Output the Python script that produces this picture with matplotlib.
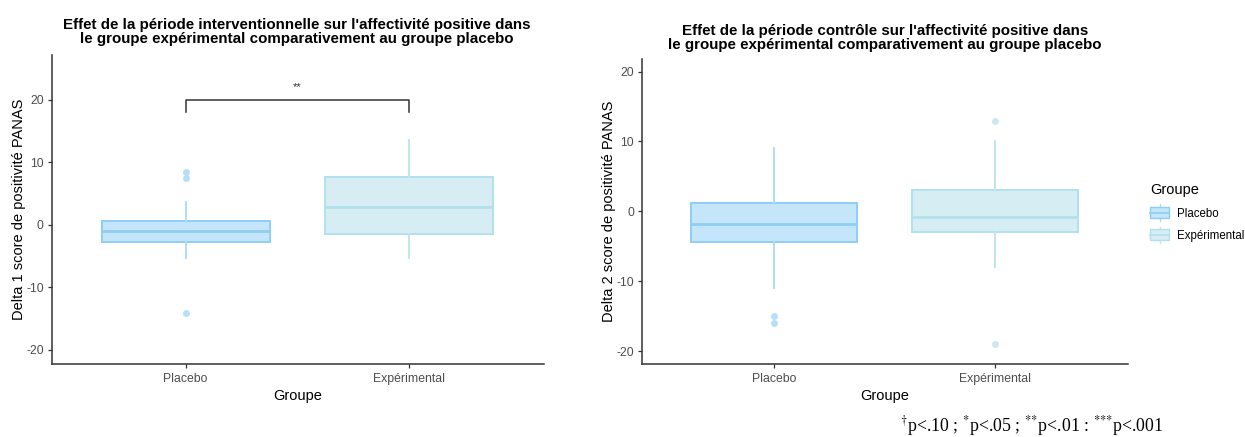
import matplotlib
matplotlib.use("Agg")
import matplotlib.pyplot as plt
from matplotlib.patches import Rectangle
from matplotlib.lines import Line2D
from matplotlib.legend_handler import HandlerBase

plt.rcParams['font.family'] = ['Liberation Sans', 'DejaVu Sans']
plt.rcParams['mathtext.fontset'] = 'stix'
plt.rcParams['axes.unicode_minus'] = False

groups = ['Placebo', 'Expérimental']

# box statistics per group: q1, median, q3, lower whisker, upper whisker, outliers
delta1_q1 = [-2.7, -1.4]
delta1_med = [-0.9, 2.9]
delta1_q3 = [0.6, 7.7]
delta1_lo = [-5.3, -5.3]
delta1_hi = [3.6, 13.6]
delta1_out = [[8.5, 7.5, -14.0], []]

delta2_q1 = [-4.4, -2.9]
delta2_med = [-1.8, -0.8]
delta2_q3 = [1.15, 3.0]
delta2_lo = [-10.9, -7.9]
delta2_hi = [9.1, 10.0]
delta2_out = [[-15.0, -16.0], [13.0, -19.0]]

titles = ["Effet de la période interventionnelle sur l'affectivité positive dans\n"
          "le groupe expérimental comparativement au groupe placebo",
          "Effet de la période contrôle sur l'affectivité positive dans\n"
          "le groupe expérimental comparativement au groupe placebo"]
ylabels = ["Delta 1 score de positivité PANAS", "Delta 2 score de positivité PANAS"]
yticks = [-20, -10, 0, 10, 20]

fills = ['#C4E5FA', '#D7EDF4']
edges = ['#8ECEF6', '#B3E0ED']
whisk = ['#AEDCF8', '#C2E5F0']
fliercol = ['#B8DFF9', '#CCE8F1']

W, H = 1245, 437
fig = plt.figure(figsize=(W / 100, H / 100), dpi=100)


def fax(x0, y0, x1, y1):
    return fig.add_axes([x0 / W, 1 - y1 / H, (x1 - x0) / W, (y1 - y0) / H])


def draw_panel(ax, q1, med, q3, lo, hi, out, ylim, ylabel, labx):
    for i in range(len(groups)):
        st = dict(q1=q1[i], med=med[i], q3=q3[i], whislo=lo[i], whishi=hi[i], fliers=out[i])
        ax.bxp([st], positions=[i + 1], widths=0.75, patch_artist=True, showcaps=False,
               boxprops=dict(facecolor=fills[i], edgecolor=edges[i], linewidth=1.4),
               medianprops=dict(color=edges[i], linewidth=2),
               whiskerprops=dict(color=whisk[i], linewidth=1.4),
               flierprops=dict(marker='o', markersize=5, markerfacecolor=fliercol[i],
                               markeredgecolor='none'))
    ax.set_xlim(0.4, 2.6)
    ax.set_ylim(*ylim)
    ax.set_yticks(yticks)
    ax.set_xticks([1, 2])
    ax.set_xticklabels(groups)
    for s in ['top', 'right']:
        ax.spines[s].set_visible(False)
    for s in ['left', 'bottom']:
        ax.spines[s].set_color('#333333')
        ax.spines[s].set_linewidth(1.1)
    ax.tick_params(colors='#333333', labelcolor='#4D4D4D', labelsize=8.8, length=3, width=0.9)
    ax.tick_params(axis='y', pad=2.5)
    ax.set_xlabel('Groupe', fontsize=10.5, labelpad=3)
    ax.set_ylabel(ylabel, fontsize=10.5)
    ax.yaxis.set_label_coords(labx, 0.5)


ax1 = fax(51.5, 55, 543.5, 364)
draw_panel(ax1, delta1_q1, delta1_med, delta1_q3, delta1_lo, delta1_hi, delta1_out,
           (-22.24, 27.2), ylabels[0], -0.052)

# significance bracket between the two groups
ax1.plot([1, 1, 2, 2], [18.1, 20, 20, 18.1], color='#333333', linewidth=1.1)
ax1.text(1.5, 21.3, '**', ha='center', va='bottom', fontsize=8, color='#333333')

ax2 = fax(641.7, 59, 1128, 364)
draw_panel(ax2, delta2_q1, delta2_med, delta2_q3, delta2_lo, delta2_hi, delta2_out,
           (-21.83, 21.8), ylabels[1], -0.052)

fig.text(297 / W, 1 - 32 / H, titles[0], ha='center', va='center', fontsize=10.9,
         fontweight='bold', linespacing=0.95)
fig.text(885 / W, 1 - 38 / H, titles[1], ha='center', va='center', fontsize=10.9,
         fontweight='bold', linespacing=0.95)


class BoxKey(HandlerBase):
    def create_artists(self, legend, orig_handle, xd, yd, width, height, fontsize, trans):
        fc, ec, wc = orig_handle
        x0, y0 = -xd, -yd
        return [Line2D([x0 + width / 2] * 2, [y0 - 2, y0 + height + 2], color=wc, lw=1,
                       transform=trans),
                Rectangle((x0, y0), width, height, facecolor=fc, edgecolor=ec, lw=1,
                          transform=trans),
                Line2D([x0, x0 + width], [y0 + height / 2] * 2, color=ec, lw=1.2,
                       transform=trans)]


handles = [(fills[i], edges[i], whisk[i]) for i in range(len(groups))]
leg = fig.legend(handles, groups, handler_map={tuple: BoxKey()}, loc='upper left',
                 bbox_to_anchor=(1140 / W, 1 - 173 / H), frameon=False, fontsize=8.3,
                 title='Groupe', title_fontsize=10.5, alignment='left',
                 handlelength=1.6, handleheight=1.1, handletextpad=0.75, labelspacing=0.85)

fig.text(1032 / W, 1 - 426 / H,
         r'$^{\text{†}}$p<.10 ; $^{\text{*}}$p<.05 ; $^{\text{**}}$p<.01 : $^{\text{***}}$p<.001',
         ha='center', va='center', fontsize=12.8, family='Liberation Serif')

fig.savefig('out.png', dpi=100)
